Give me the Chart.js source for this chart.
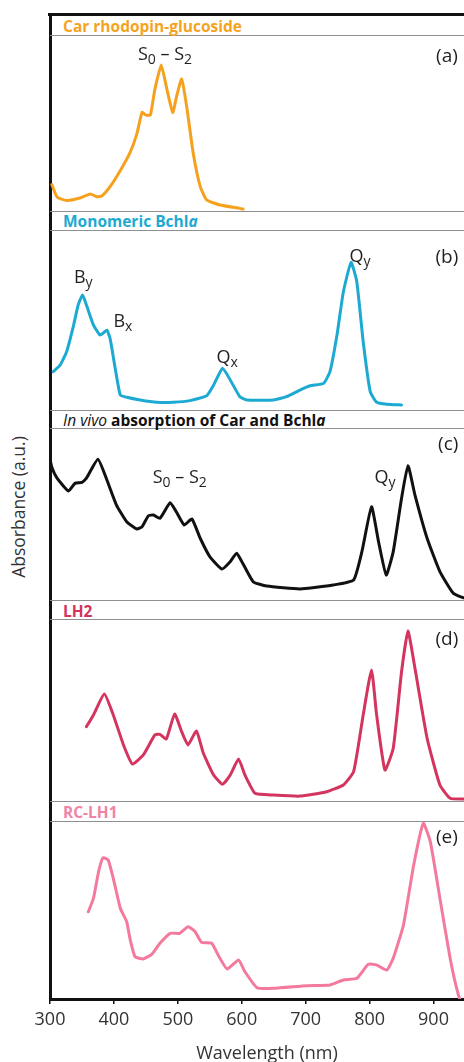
<!DOCTYPE html>
<html>
<head>
<meta charset="utf-8">
<script src="https://cdn.jsdelivr.net/npm/chart.js@4.4.1/dist/chart.umd.min.js"></script>
<style>
html,body{margin:0;padding:0;background:#fff;}
#wrap{position:relative;width:464px;height:1062px;overflow:hidden;font-family:'Open Sans',sans-serif;background:#fff;}
canvas{position:absolute;left:0;}
.rule{position:absolute;left:50px;width:414px;height:1.6px;background:#8f8f8f;}
.ttl{position:absolute;left:63px;font-weight:700;font-size:15.5px;line-height:18px;white-space:nowrap;}
#ytitle{position:absolute;left:18px;top:507px;font-size:17.5px;color:#333;white-space:nowrap;transform:translate(-50%,-50%) rotate(-90deg);}
</style>
</head>
<body>
<div id="wrap">
  <div style="position:absolute;left:48px;top:13px;width:416px;height:3px;background:#111;"></div>
  <div style="position:absolute;left:48.5px;top:13px;width:3px;height:987px;background:#111;"></div>
  <div class="rule" style="top:34.5px"></div>
  <div class="rule" style="top:210.5px"></div>
  <div class="rule" style="top:229.5px"></div>
  <div class="rule" style="top:409.5px"></div>
  <div class="rule" style="top:427.5px"></div>
  <div class="rule" style="top:599.5px"></div>
  <div class="rule" style="top:618.5px"></div>
  <div class="rule" style="top:800.5px"></div>
  <div class="rule" style="top:820.5px"></div>
  <div class="ttl" style="top:17px;color:#F5A31F">Car rhodopin-glucoside</div>
  <div class="ttl" style="top:212px;color:#1CAAD0">Monomeric Bchl<i>a</i></div>
  <div class="ttl" style="top:411px;color:#111"><i style="font-weight:400">In vivo</i> absorption of Car and Bchl<i>a</i></div>
  <div class="ttl" style="top:602px;color:#D2345E">LH2</div>
  <div class="ttl" style="top:803px;color:#F084A6">RC-LH1</div>
  <div id="ytitle">Absorbance (a.u.)</div>
  <canvas id="c0"></canvas>
  <canvas id="c1"></canvas>
  <canvas id="c2"></canvas>
  <canvas id="c3"></canvas>
  <canvas id="c4"></canvas>
</div>
<script>
// ---------- data ----------
const wavelengthTicks = [300, 400, 500, 600, 700, 800, 900];

const carWavelength  = [303,311,326,347,363,373,381,394,410,425,436,444,450,457,464,474,483,492,498,506,514,524,535,545,566,597,602];
const carAbsorbance  = [15,8,6,7.4,9.7,8.1,8.5,13.8,23,33,44,56,54.5,54.5,69,83,69,56,65,75,59,33,14,6.3,3.4,1.5,1.1];

const bchlWavelength = [305,316,326,337,344,351,357,368,378,383,389,394,402,410,420,441,467,493,519,545,556,570,582,597,608,650,670,691,707,728,738,749,759,771,780,790,801,811,827,850];
const bchlAbsorbance = [21.3,25,32.4,47.2,58.3,63.9,58.3,47.2,41.7,42.6,44.4,39.8,23.2,8.3,7.1,5.6,4.3,4.3,5.2,7.9,13.9,23.2,16.7,7.4,5.6,5.6,7.4,11.1,13.5,14.8,21.3,41.7,65.7,82,71.3,37.9,10.2,4.3,3.2,2.8];

const inVivoWavelength = [300,303,311,329,339,350,357,375,389,404,420,436,444,454,462,472,488,498,510,522,535,550,569,582,592,603,618,639,691,743,775,788,803,814,826,837,850,860,871,890,910,931,947,975];
const inVivoAbsorbance = [82,77,70.8,63.4,67.8,68.4,70.8,81.8,69.8,55.2,45.5,41.3,42.6,49,49.4,47.5,56.6,51,43.6,47.1,35.9,25.2,18,22.3,27.2,20.3,10.6,8.1,6.4,8.7,11.6,28.1,54.2,33.9,14.5,28.1,59.1,78.1,61,35.9,16.5,3.9,1.3,0.5];

const lh2Wavelength = [357,368,385,399,415,429,446,464,472,482,495,506,516,529,540,556,570,582,595,605,621,650,691,733,759,775,790,803,811,824,837,850,860,871,890,910,926,947,975];
const lh2Absorbance = [40.8,47.3,58.8,47.3,30.8,20.3,25.3,36.3,36.6,34.1,47.8,38.1,30.8,38.5,26.2,14.3,9.2,14.3,23.1,14.3,4.2,3.3,2.7,5.1,8.8,16.1,47.3,72,47.3,17,29,71,93.4,72.9,34.5,8.8,1.5,1.1,1];

const rcLh1Wavelength = [360,368,376,383,391,399,410,420,425,433,446,459,472,488,503,516,527,537,553,563,577,595,605,624,650,702,738,759,780,798,811,827,837,853,869,884,895,910,926,939,950];
const rcLh1Absorbance = [49,56.6,71.5,79.4,78.1,67.8,51,43.4,34.1,23.8,22.5,25.1,31.3,36.9,36.9,40.6,37.8,31.9,31.3,24.7,16.9,21.9,15.3,6.3,6,7.5,7.9,10.7,11.6,19.5,19.1,16.3,22.9,41.6,75.3,98.7,88.4,56.6,22.9,2.2,-8];

// annotation labels: [wavelength, absorbance, text parts, font size]
const carLabels    = [[480, 88.6, [['S'],['0','sub'],[' – '],['S'],['2','sub']]], [921, 87.5, [['(a)']], 19]];
const bchlLabels   = [[352, 73.3, [['B'],['y','sub']]], [414, 48.9, [['B'],['x','sub']]], [577, 28.9, [['Q'],['x','sub']]], [785, 85, [['Q'],['y','sub']]], [921, 84.4, [['(b)']], 19]];
const inVivoLabels = [[503, 70.9, [['S'],['0','sub'],[' – '],['S'],['2','sub']]], [824, 70.9, [['Q'],['y','sub']]], [923, 90.1, [['(c)']], 19]];
const lh2Labels    = [[921, 88.5, [['(d)']], 19]];
const rcLh1Labels  = [[921, 90.4, [['(e)']], 19]];

// ---------- drawing ----------
const labelPlugin = {
  id: 'peakLabels',
  afterDatasetsDraw(chart, args, opts) {
    const ctx = chart.ctx, xs = chart.scales.x, ys = chart.scales.y;
    (opts.items || []).forEach(it => {
      const px = xs.getPixelForValue(it[0]), py = ys.getPixelForValue(it[1]);
      const size = it[3] || 18;
      const segs = it[2].map(p => ({t: p[0], sub: p[1] === 'sub'}));
      ctx.save();
      ctx.fillStyle = '#231f20';
      ctx.textBaseline = 'middle';
      ctx.textAlign = 'left';
      let w = 0;
      segs.forEach(s => { ctx.font = (s.sub ? Math.round(size * 0.75) : size) + 'px "Open Sans"'; s.w = ctx.measureText(s.t).width; w += s.w; });
      let x = px - w / 2;
      segs.forEach(s => {
        ctx.font = (s.sub ? Math.round(size * 0.75) : size) + 'px "Open Sans"';
        ctx.fillText(s.t, x, py + (s.sub ? size * 0.3 : 0));
        x += s.w;
      });
      ctx.restore();
    });
  }
};

const panels = [
  {id: 'c0', top: 35,  bottom: 211, xs: carWavelength,    ys: carAbsorbance,    color: '#F6A11E', labels: carLabels},
  {id: 'c1', top: 230, bottom: 410, xs: bchlWavelength,   ys: bchlAbsorbance,   color: '#1DAAD2', labels: bchlLabels},
  {id: 'c2', top: 428, bottom: 600, xs: inVivoWavelength, ys: inVivoAbsorbance, color: '#111111', labels: inVivoLabels},
  {id: 'c3', top: 619, bottom: 801, xs: lh2Wavelength,    ys: lh2Absorbance,    color: '#D3355F', labels: lh2Labels},
  {id: 'c4', top: 821, bottom: 999, xs: rcLh1Wavelength,  ys: rcLh1Absorbance,  color: '#F47A9D', labels: rcLh1Labels, bottomAxis: true}
];

const PAD = 6, AXIS_H = 63, CW = 484;
panels.forEach(p => {
  const cv = document.getElementById(p.id);
  const top = p.top - PAD;
  const h = p.bottomAxis ? (1062 - top) : (p.bottom - p.top + 2 * PAD);
  cv.width = CW; cv.height = h;
  cv.style.top = top + 'px'; cv.style.width = CW + 'px'; cv.style.height = h + 'px';
  const xScale = p.bottomAxis ? {
    type: 'linear', min: 300, max: 979, position: 'bottom',
    afterBuildTicks: s => { s.ticks = wavelengthTicks.map(v => ({value: v})); },
    afterFit: s => { s.height = AXIS_H; },
    grid: {drawOnChartArea: false, drawTicks: true, tickLength: 5, color: '#111', lineWidth: 1.5},
    border: {display: true, color: '#111', width: 3},
    ticks: {color: '#333', font: {family: 'Open Sans', size: 18}, padding: 5, maxRotation: 0, autoSkip: false},
    title: {display: true, text: 'Wavelength (nm)', color: '#333', font: {family: 'Open Sans', size: 18}, padding: {top: 0, bottom: -3}}
  } : {type: 'linear', min: 300, max: 979, display: false};
  new Chart(cv, {
    type: 'line',
    data: {datasets: [{
      data: p.xs.map((x, i) => ({x: x, y: p.ys[i]})),
      borderColor: p.color, borderWidth: 3, pointRadius: 0, tension: 0.15,
      borderJoinStyle: 'round', borderCapStyle: 'round', fill: false
    }]},
    options: {
      responsive: false, animation: false, devicePixelRatio: 1,
      layout: {padding: {left: 50, right: 0, top: PAD, bottom: p.bottomAxis ? 0 : PAD}},
      scales: {x: xScale, y: {display: false, min: 0, max: 100}},
      plugins: {legend: {display: false}, tooltip: {enabled: false}, peakLabels: {items: p.labels}}
    },
    plugins: [labelPlugin]
  });
});
</script>
</body>
</html>
